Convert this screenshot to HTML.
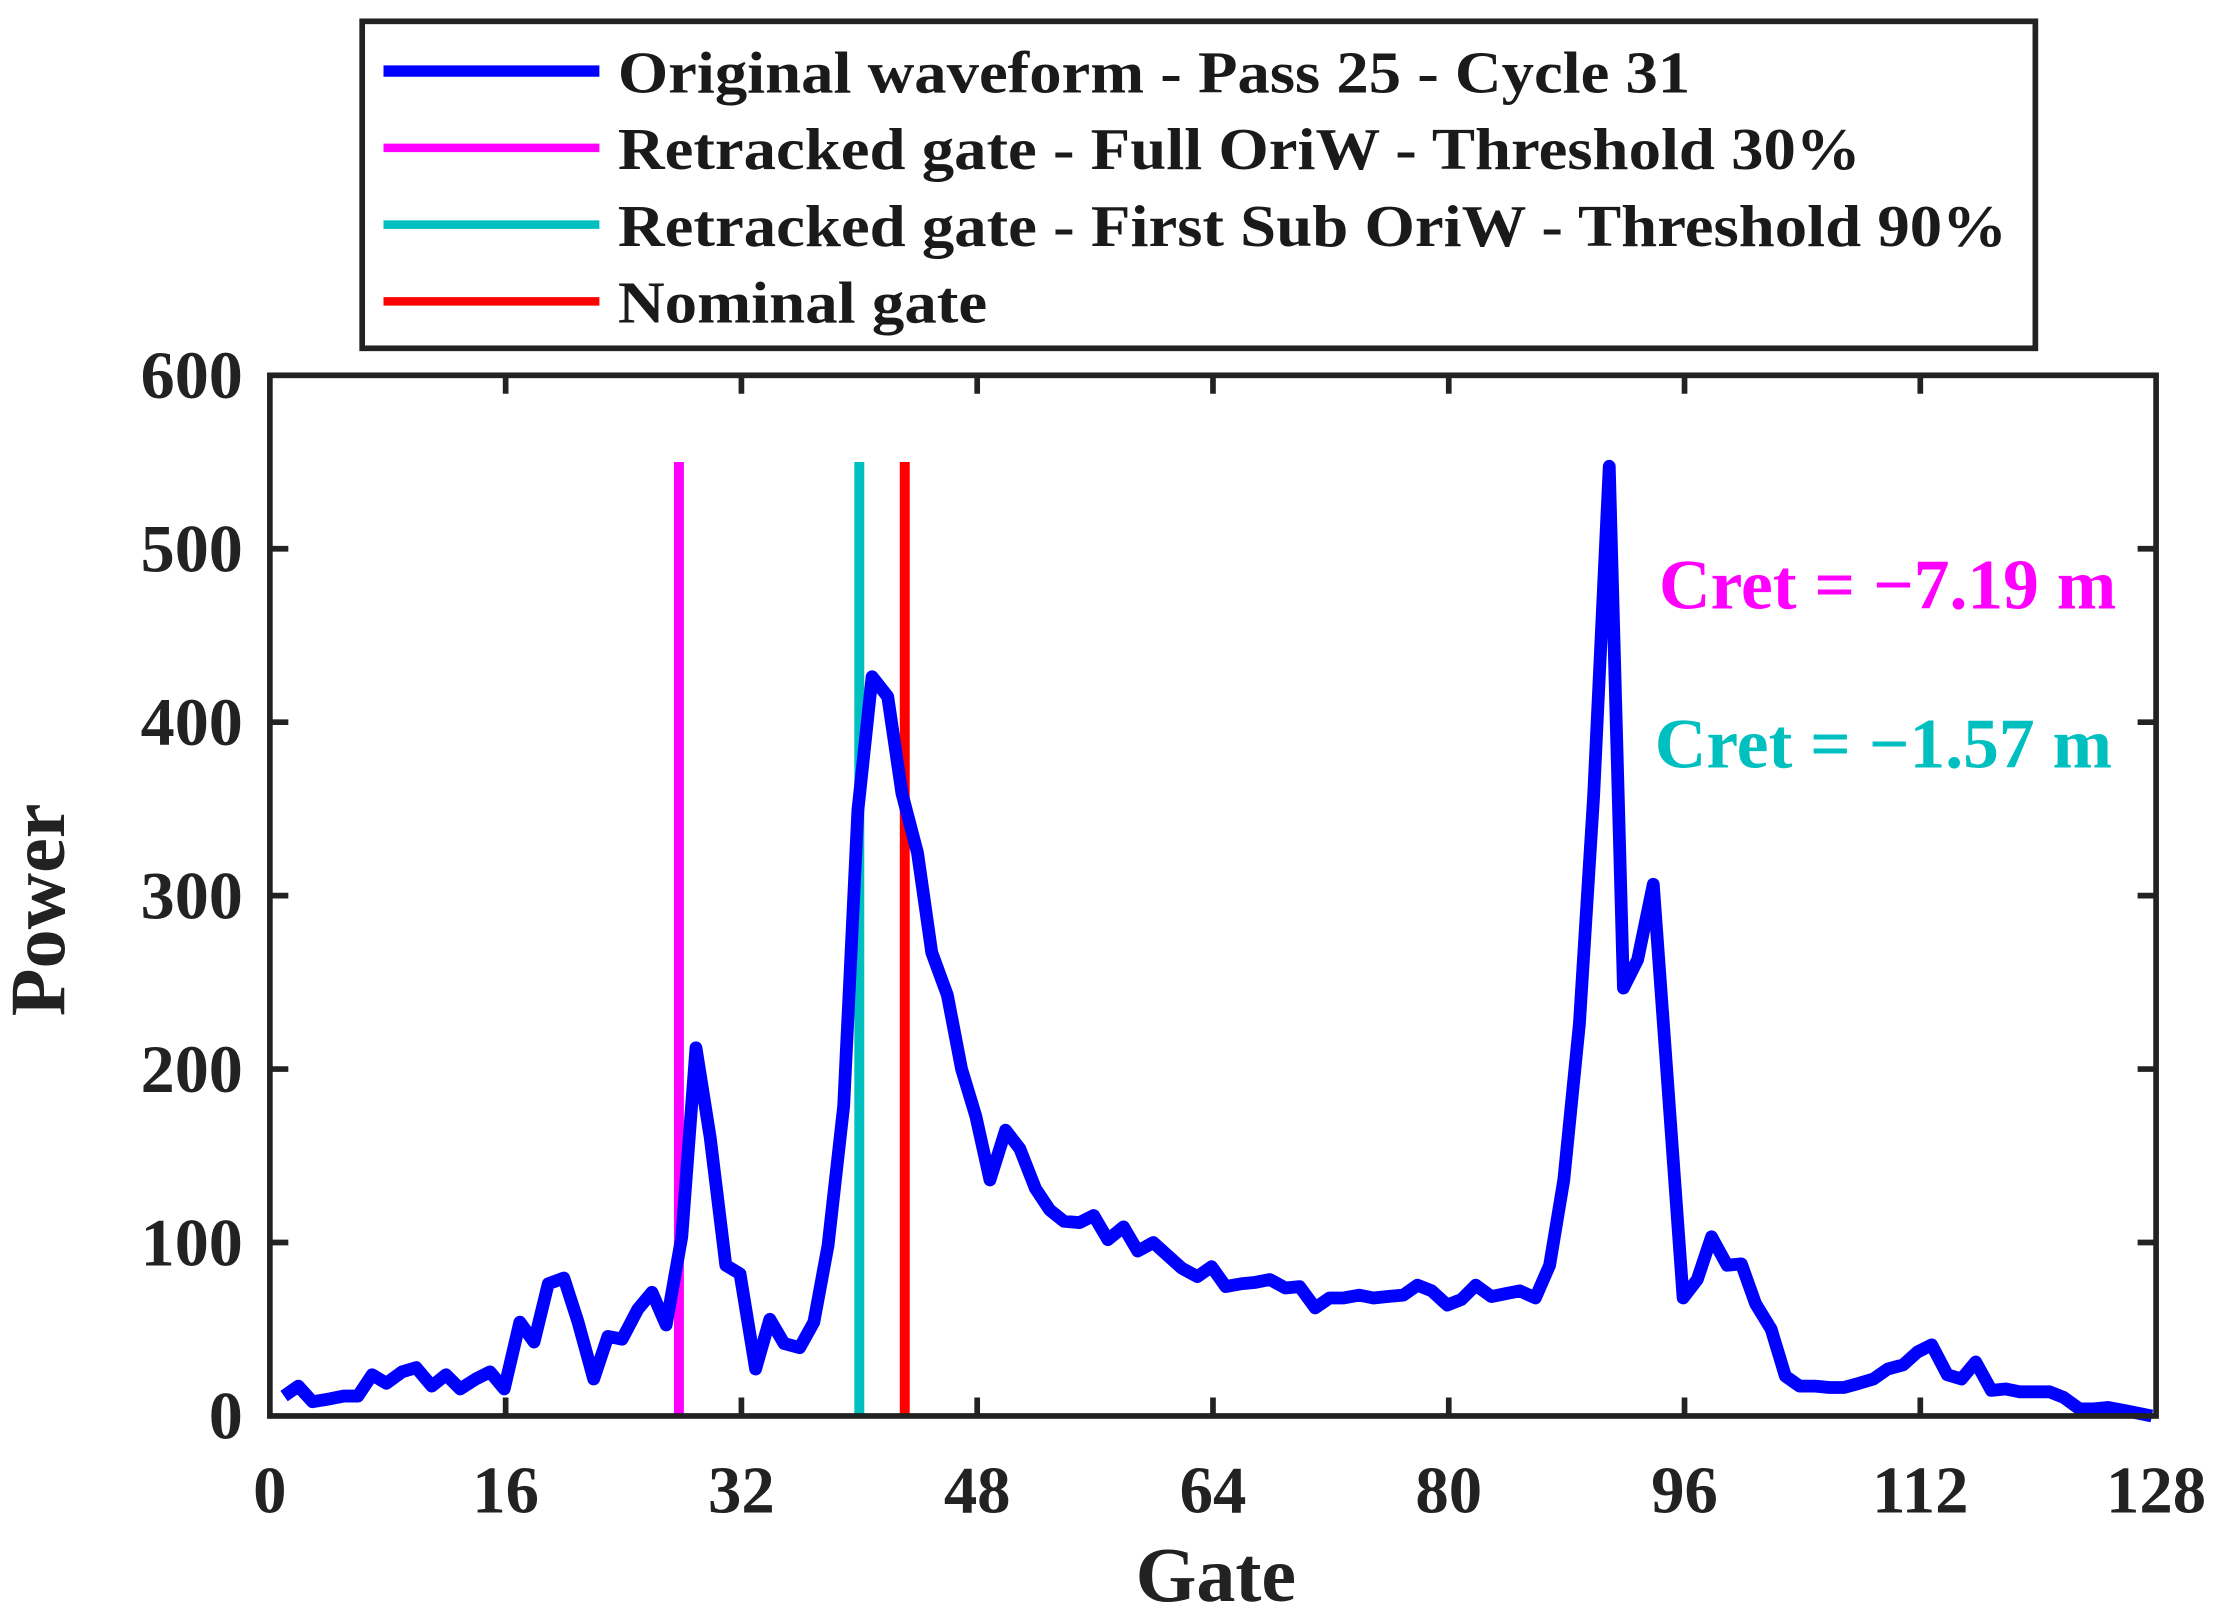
<!DOCTYPE html>
<html><head><style>html,body{margin:0;padding:0;background:#fff}svg{display:block}</style></head>
<body>
<svg width="2220" height="1615" viewBox="0 0 1563 1136" preserveAspectRatio="none" xmlns="http://www.w3.org/2000/svg" font-family="Liberation Serif, serif" font-weight="bold">
<rect width="1563" height="1136" fill="#fff"/>
<!-- legend -->
<rect x="255" y="15" width="1178" height="230" fill="#fff" stroke="#222" stroke-width="4"/>
<line x1="270" y1="50" x2="422" y2="50" stroke="#0000ff" stroke-width="8"/>
<line x1="270" y1="104" x2="422" y2="104" stroke="#ff00ff" stroke-width="6"/>
<line x1="270" y1="158" x2="422" y2="158" stroke="#00bfbf" stroke-width="6"/>
<line x1="270" y1="212" x2="422" y2="212" stroke="#ff0000" stroke-width="6"/>
<g font-size="42" fill="#1a1a1a">
<text x="435" y="65" textLength="755" lengthAdjust="spacingAndGlyphs">Original waveform - Pass 25 - Cycle 31</text>
<text x="435" y="119" textLength="875" lengthAdjust="spacingAndGlyphs">Retracked gate - Full OriW - Threshold 30%</text>
<text x="435" y="173" textLength="978" lengthAdjust="spacingAndGlyphs">Retracked gate - First Sub OriW - Threshold 90%</text>
<text x="435" y="227" textLength="260" lengthAdjust="spacingAndGlyphs">Nominal gate</text>
</g>
<!-- lines -->
<line x1="478" y1="325" x2="478" y2="996" stroke="#ff00ff" stroke-width="7"/>
<line x1="605" y1="325" x2="605" y2="996" stroke="#00bfbf" stroke-width="7"/>
<line x1="637" y1="325" x2="637" y2="996" stroke="#ff0000" stroke-width="7"/>
<polyline fill="none" stroke="#0000ff" stroke-width="9" stroke-linejoin="round" points="200,982 210,975 220,986 232,984 242,982 252,982 262,967 272,973 283,965 293,962 304,975 314,967 324,977 335,970 345,965 355,977 366,930 376,944 386,903 397,899 407,930 418,970 428,940 438,942 449,921 459,909 469,932 480,870 490,737 500,800 511,890 521,896 532,963 542,928 552,945 563,948 573,930 583,876 594,778 604,570 614,476 625,490 635,558 646,600 656,670 667,700 677,752 687,785 697,830 708,795 718,808 729,836 739,851 749,859 760,860 770,855 780,872 791,863 801,880 812,874 822,883 832,892 843,898 853,891 863,905 874,903 884,902 894,900 905,906 915,905 926,920 936,913 946,913 957,911 967,913 977,912 988,911 998,904 1008,908 1019,918 1029,914 1039,904 1050,912 1060,910 1070,908 1081,913 1091,890 1101,830 1112,720 1122,560 1133,328 1143,695 1153,675 1164,622 1174,760 1185,913 1195,900 1205,870 1216,890 1226,889 1236,917 1247,935 1257,968 1267,975 1278,975 1288,976 1298,976 1309,973 1319,970 1329,963 1340,960 1350,951 1360,946 1371,967 1381,970 1391,958 1402,978 1412,977 1422,979 1433,979 1443,979 1453,983 1464,991 1474,991 1484,990 1495,992 1505,994 1515,996"/>
<text x="1168" y="428" font-size="50" fill="#ff00ff" textLength="322" lengthAdjust="spacingAndGlyphs">Cret = −7.19 m</text>
<text x="1165" y="540" font-size="50" fill="#00bfbf" textLength="322" lengthAdjust="spacingAndGlyphs">Cret = −1.57 m</text>
<!-- axes -->
<rect x="190" y="264" width="1328" height="732" fill="none" stroke="#222" stroke-width="4"/>
<g stroke="#222" stroke-width="4">
<path d="M190 874h13M190 752h13M190 630h13M190 508h13M190 386h13M1518 874h-13M1518 752h-13M1518 630h-13M1518 508h-13M1518 386h-13"/>
<path d="M356 996v-13M522 996v-13M688 996v-13M854 996v-13M1020 996v-13M1186 996v-13M1352 996v-13M356 264v13M522 264v13M688 264v13M854 264v13M1020 264v13M1186 264v13M1352 264v13"/>
</g>
<g font-size="48" fill="#222" text-anchor="end">
<text x="171" y="1012">0</text><text x="171" y="890">100</text><text x="171" y="768">200</text><text x="171" y="646">300</text><text x="171" y="524">400</text><text x="171" y="402">500</text><text x="171" y="280">600</text>
</g>
<g font-size="47" fill="#222" text-anchor="middle">
<text x="190" y="1064">0</text><text x="356" y="1064">16</text><text x="522" y="1064">32</text><text x="688" y="1064">48</text><text x="854" y="1064">64</text><text x="1020" y="1064">80</text><text x="1186" y="1064">96</text><text x="1352" y="1064">112</text><text x="1518" y="1064">128</text>
</g>
<text x="856" y="1126" font-size="55" fill="#222" text-anchor="middle">Gate</text>
<text transform="translate(45,640) rotate(-90)" font-size="55" fill="#222" text-anchor="middle">Power</text>
</svg>
</body></html>
